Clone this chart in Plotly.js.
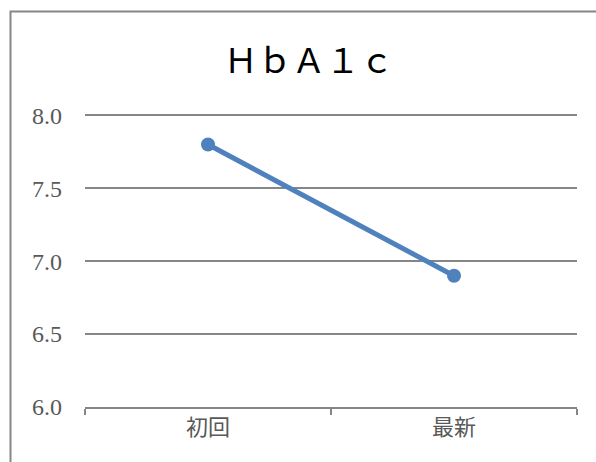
<!DOCTYPE html>
<html>
<head>
<meta charset="utf-8">
<script src="https://cdn.plot.ly/plotly-3.0.1.min.js"></script>
<style>html,body{margin:0;padding:0;background:#fff;}#chart{width:596px;height:462px;}</style>
</head>
<body>
<div id="chart"></div>
<script>
const categories = ["初回", "最新"];
const hba1c = [7.8, 6.9];
const yTicks = [6.0, 6.5, 7.0, 7.5, 8.0];
const yTickLabels = ["6.0", "6.5", "7.0", "7.5", "8.0"];
const chartTitle = "ＨｂＡ１ｃ";

const trace = {
  x: categories,
  y: hba1c,
  type: "scatter",
  mode: "lines+markers",
  line: {color: "#4F81BD", width: 5},
  marker: {color: "#4F81BD", size: 14},
  hoverinfo: "skip",
  cliponaxis: false
};

const layout = {
  width: 596, height: 462,
  margin: {l: 85, r: 19, t: 111, b: 55},
  paper_bgcolor: "#fff", plot_bgcolor: "#fff",
  showlegend: false,
  title: {text: chartTitle, x: 0.518, xanchor: "center", y: 0.868, yanchor: "middle",
          font: {family: "Liberation Serif, Noto Sans CJK JP, serif", size: 34, color: "#000"}},
  xaxis: {
    type: "category", range: [-0.5, 1.5], tickson: "boundaries",
    ticks: "outside", ticklen: 6, tickcolor: "#868686", tickwidth: 1.5,
    showline: true, linecolor: "#868686", linewidth: 1.5,
    showgrid: false, zeroline: false,
    tickfont: {family: "Noto Sans CJK JP, sans-serif", size: 22, color: "#595959"},
    fixedrange: true
  },
  yaxis: {
    range: [6.0, 8.03], tickvals: yTicks, ticktext: yTickLabels,
    showgrid: true, gridcolor: "#868686", gridwidth: 1.8,
    zeroline: false, showline: false, ticks: "", ticklabelstandoff: 22,
    tickfont: {family: "Liberation Serif, serif", size: 24, color: "#595959"},
    fixedrange: true
  },
  shapes: [{
    type: "path", xref: "paper", yref: "paper",
    path: "M -0.1514 -0.3 L -0.1514 1.336 L 1.3 1.336",
    line: {color: "#868686", width: 2}
  }]
};

Plotly.newPlot("chart", [trace], layout, {displayModeBar: false, staticPlot: true});
</script>
</body>
</html>
